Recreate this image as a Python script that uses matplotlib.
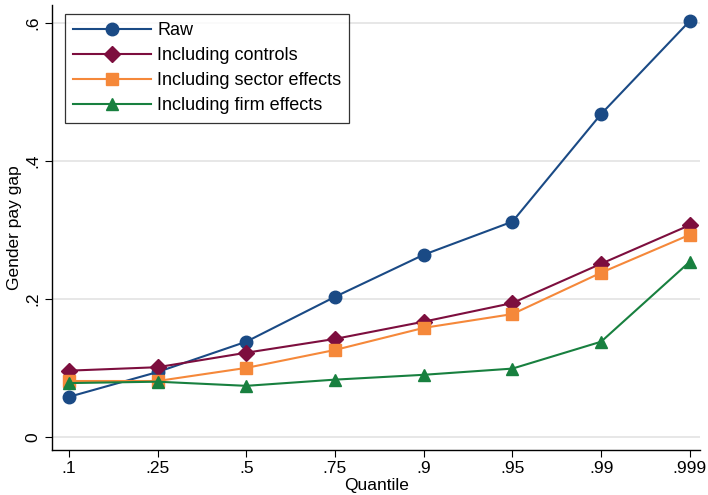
import matplotlib.pyplot as plt

plt.rcParams['font.family'] = ['Liberation Sans', 'DejaVu Sans']

quantiles = ['.1', '.25', '.5', '.75', '.9', '.95', '.99', '.999']
raw = [0.058, 0.094, 0.138, 0.203, 0.264, 0.312, 0.468, 0.603]
controls = [0.096, 0.101, 0.122, 0.142, 0.167, 0.194, 0.251, 0.307]
sector = [0.081, 0.081, 0.100, 0.126, 0.158, 0.178, 0.238, 0.293]
firm = [0.078, 0.080, 0.074, 0.083, 0.090, 0.099, 0.138, 0.254]

series = [
    ('Raw', raw, '#1a4a85', 'o', 9),
    ('Including controls', controls, '#7d0e3e', 'D', 8),
    ('Including sector effects', sector, '#f5883a', 's', 8),
    ('Including firm effects', firm, '#18803f', '^', 9),
]

fig = plt.figure(figsize=(7.08, 4.95), dpi=100)
ax = fig.add_axes([0.0734, 0.0909, 0.916, 0.899])

x = list(range(len(quantiles)))
for label, vals, color, marker, ms in series:
    ax.plot(x, vals, color=color, marker=marker, markersize=ms, linewidth=1.5,
            label=label, clip_on=False, zorder=3)

ax.set_xlim(-0.19, 7.12)
ax.set_ylim(-0.019, 0.626)
ax.set_xticks(x)
ax.set_xticklabels(quantiles, fontsize=12.5)
ax.set_yticks([0, 0.2, 0.4, 0.6])
ax.set_yticklabels(['0', '.2', '.4', '.6'], fontsize=12.5, rotation=90, va='center')
ax.tick_params(axis='both', length=5, width=0.8, color='black', pad=3)
ax.grid(axis='y', color='#e3e3e3', linewidth=1.2, zorder=0)
ax.set_axisbelow(True)

for side in ['top', 'right']:
    ax.spines[side].set_visible(False)
for side in ['left', 'bottom']:
    ax.spines[side].set_linewidth(1.0)

ax.set_xlabel('Quantile', fontsize=12.5, labelpad=1)
ax.set_ylabel('Gender pay gap', fontsize=12.5, labelpad=3)

leg = ax.legend(loc='upper left', bbox_to_anchor=(0.02, 0.98), fontsize=13,
                handlelength=4.3, frameon=True, fancybox=False, borderpad=0.45,
                labelspacing=0.45, handletextpad=0.35, borderaxespad=0)
leg.get_frame().set_edgecolor('black')
leg.get_frame().set_linewidth(0.9)

fig.savefig('out.png', dpi=100)
